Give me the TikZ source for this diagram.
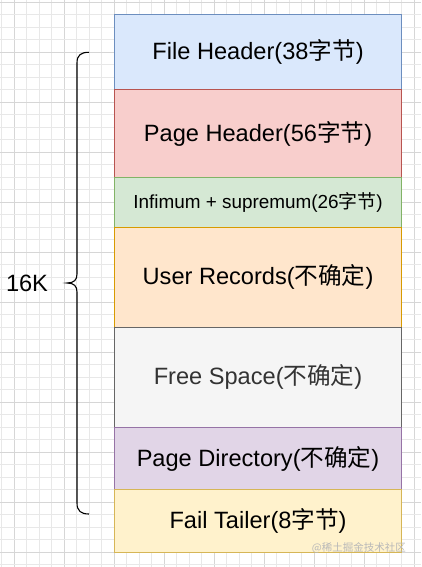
\documentclass[tikz,border=0pt]{standalone}
\usepackage{fontspec}
\setmainfont{Liberation Sans}
\newfontfamily\cjk{Noto Sans CJK SC}
\begin{document}
\begin{tikzpicture}[x=1pt,y=-1pt,
  seg/.style={rectangle, draw, line width=1.1pt, anchor=north west, inner sep=0pt, outer sep=0pt,
    minimum width=287.5pt, font=\fontsize{23.6}{28}\selectfont, text=black},
  small/.style={font=\fontsize{18.9}{22}\selectfont},
  gridminor/.style={draw=black!9, line width=0.8pt},
  gridmajor/.style={draw=black!16, line width=0.8pt}]
\useasboundingbox (0,0) rectangle (421,567);
\fill[white] (0,0) rectangle (421,567);
% grid
\foreach \i in {0,...,33} {
  \pgfmathsetmacro{\xx}{1.8+12.5*\i}
  \pgfmathtruncatemacro{\m}{mod(\i+3,4)}
  \ifnum\m=0 \draw[gridmajor] (\xx,0) -- (\xx,567); \else \draw[gridminor] (\xx,0) -- (\xx,567); \fi
}
\foreach \i in {0,...,45} {
  \pgfmathsetmacro{\yy}{2.3+12.5*\i}
  \pgfmathtruncatemacro{\m}{mod(\i,4)}
  \ifnum\m=0 \draw[gridmajor] (0,\yy) -- (421,\yy); \else \draw[gridminor] (0,\yy) -- (421,\yy); \fi
}
% segments
\node[seg, fill={rgb,255:red,218;green,232;blue,252}, draw={rgb,255:red,108;green,142;blue,191}, minimum height=75pt] (fh) at (114.3,14.8) {File Header(38{\cjk 字节})};
\node[seg, fill={rgb,255:red,248;green,206;blue,204}, draw={rgb,255:red,184;green,84;blue,80}, minimum height=87.5pt] (ph) at (114.3,89.8) {Page Header(56{\cjk 字节})};
\node[seg, small, fill={rgb,255:red,213;green,232;blue,212}, draw={rgb,255:red,130;green,179;blue,102}, minimum height=50pt] (inf) at (114.3,177.3) {Infimum + supremum(26{\cjk 字节})};
\node[seg, fill={rgb,255:red,255;green,230;blue,204}, draw={rgb,255:red,215;green,155;blue,0}, minimum height=100pt] (ur) at (114.3,227.3) {User Records({\cjk 不确定})};
\node[seg, fill={rgb,255:red,245;green,245;blue,245}, draw={rgb,255:red,102;green,102;blue,102}, text={rgb,255:red,51;green,51;blue,51}, minimum height=100pt] (fs) at (114.3,327.3) {Free Space({\cjk 不确定})};
\node[seg, fill={rgb,255:red,225;green,213;blue,231}, draw={rgb,255:red,150;green,115;blue,166}, minimum height=62.5pt] (pd) at (114.3,427.3) {Page Directory({\cjk 不确定})};
\node[seg, fill={rgb,255:red,255;green,242;blue,204}, draw={rgb,255:red,214;green,182;blue,86}, minimum height=62.5pt] (ft) at (114.3,489.8) {Fail Tailer(8{\cjk 字节})};
% brace
\draw[line width=1.1pt, black] (89,52.3) .. controls (81,52.3) and (77,55) .. (77,63)
  -- (77,274) .. controls (77,280) and (74,283) .. (67,283)
  .. controls (74,283) and (77,286) .. (77,292)
  -- (77,503) .. controls (77,511) and (81,514) .. (89,514);
\node[font=\fontsize{23.6}{28}\selectfont, inner sep=0pt, anchor=center] (k) at (27,283) {16K};
% watermark
\node[font=\cjk\fontsize{10.5}{12}\selectfont, text=black!28, anchor=east, inner sep=0pt] (wm) at (406,548) {@稀土掘金技术社区};
\end{tikzpicture}
\end{document}
